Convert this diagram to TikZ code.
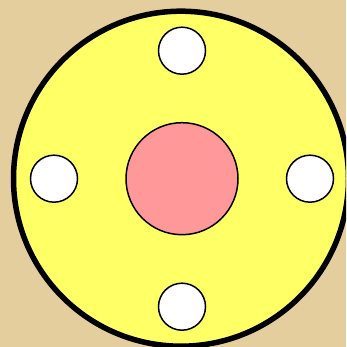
\documentclass[tikz,border=0pt]{standalone}
\begin{document}
\begin{tikzpicture}[x=1pt,y=1pt,
  hole/.style={circle,draw=black,line width=1.5pt,fill=white,minimum size=47pt,inner sep=0pt},
  hub/.style={circle,draw=black,line width=1.5pt,fill=hubpink,minimum size=112pt,inner sep=0pt},
  disc/.style={circle,draw=black,line width=5.5pt,fill=discyellow,minimum size=335pt,inner sep=0pt}]
\definecolor{parch}{RGB}{229,206,158}
\definecolor{discyellow}{RGB}{255,255,102}
\definecolor{hubpink}{RGB}{255,153,153}
\useasboundingbox (0,0) rectangle (346,347);
\clip (0,0) rectangle (346,347);
\fill[parch] (0,0) rectangle (346,347);
\node[disc] (disc) at (181,168.3) {};
\node[hub] (hub) at (182,168.3) {};
\node[hole] (top) at (182,296.3) {};
\node[hole] (bottom) at (182,40.3) {};
\node[hole] (left) at (54,168.3) {};
\node[hole] (right) at (310,168.3) {};
\end{tikzpicture}
\end{document}
